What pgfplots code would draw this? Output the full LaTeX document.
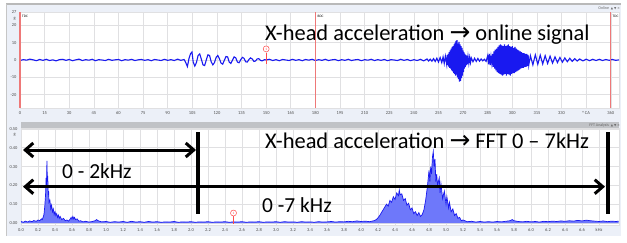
\documentclass[border=0pt]{standalone}
\usepackage{pgfplots}
\usepackage{pgfplotstable}
\pgfplotsset{compat=1.18}
\usepackage{fontspec}
\setmainfont{Carlito}
\newfontfamily\symf{DejaVu Sans}
\usetikzlibrary{arrows.meta}
\definecolor{bgc}{RGB}{236,240,248}
\definecolor{gridc}{RGB}{224,224,226}
\definecolor{sig}{RGB}{25,25,240}
\definecolor{fillc}{RGB}{110,120,250}
\definecolor{redl}{RGB}{238,120,120}
\definecolor{barc}{RGB}{192,194,198}

% top: x-head acceleration (online signal), x in deg CA, y in g
\pgfplotstableread{
x y
0 -0.3
2 0.2
4 -0.1
6 0.5
8 0.1
10 -0.4
12 0.3
14 -0.2
16 0.4
18 -0.3
20 0.1
22 -0.5
24 0.2
26 0.4
28 -0.2
30 0.3
32 -0.4
34 0.1
36 0.5
38 -0.3
40 0.2
42 -0.1
44 0.4
46 -0.4
48 0.2
50 0.0
52 -0.3
54 0.4
56 -0.2
58 0.1
60 0.3
62 -0.4
64 0.2
66 -0.1
68 0.4
70 -0.3
72 0.1
74 0.3
76 -0.2
78 0.2
80 -0.4
82 0.3
84 0.0
86 -0.3
88 0.4
90 -0.2
92 0.2
94 -0.3
96 0.5
98 -0.2
100 0.3
101 -1.5
102 -3.8
103 1.0
104 3.8
104.8 4.6
105.5 -1.0
106.5 -3.5
107.5 -1.5
108.5 2.5
109.5 3.5
110.5 0.5
111.5 -2.8
112.5 -3.2
113.5 0.0
114.5 3.0
115.5 2.6
116.5 -1.0
117.5 -2.8
118.5 -1.5
119.5 1.5
120.5 2.6
121.5 0.8
122.5 -1.8
123.5 -2.4
124.5 -0.2
125.5 2.0
126.5 1.8
127.5 -1.2
128.5 -2.0
129.5 0.0
130.5 1.8
131.5 1.2
132.5 -1.2
133.5 -1.6
134.5 0.2
135.5 1.5
136.5 1.0
137.5 -1.0
138.5 -1.2
139.5 0.3
140.5 1.2
141.5 0.6
142.5 -0.8
143.5 -0.6
144.5 0.6
145.5 0.8
146.5 -0.2
147.5 -0.5
149 0.2
150 0.0
152 0.4
154 -0.3
156 0.2
158 -0.4
160 0.3
162 0.0
164 -0.3
166 0.4
168 -0.2
170 0.2
172 -0.4
174 0.3
176 -0.1
178 0.4
180 -0.3
182 0.2
184 -0.2
186 0.4
188 -0.3
190 0.1
192 0.3
194 -0.4
196 0.2
198 -0.2
200 0.4
202 -0.3
204 0.1
206 0.3
208 -0.4
210 0.2
212 -0.1
214 0.4
216 -0.3
218 0.2
220 -0.2
222 0.3
224 -0.4
226 0.2
228 0.0
230 -0.3
232 0.4
234 -0.2
236 0.3
238 -0.4
240 0.2
242 -0.3
244 0.4
246 -0.5
248 0.6
249 -0.6
250 0.5
251 -0.7
252 0.8
253 -0.9
254 1.0
255 -1.2
256 1.4
257 -1.5
257.8 1.8
258.5 -2.0
259.2 2.2
260 -2.5
260.3 2.8
260.6 -3.0
260.9 3.5
261.2 -3.8
261.5 4.5
261.8 -4.5
262.1 5.5
262.4 -5.0
262.7 6.5
263.0 -6.0
263.3 7.5
263.6 -6.5
263.9 8.0
264.2 -7.5
264.5 9.0
264.8 -8.0
265.1 10.0
265.4 -9.0
265.7 11.0
266.0 -8.5
266.3 11.5
266.6 -10.0
266.9 9.5
267.2 -11.0
267.5 10.5
267.8 -12.5
268.1 9.0
268.4 -12.0
268.7 8.0
269.0 -10.5
269.3 7.0
269.6 -9.0
269.9 5.5
270.2 -7.0
270.5 4.5
270.8 -5.0
271.1 3.5
271.4 -4.0
271.7 3.0
272.0 -3.0
272.3 2.5
272.6 -2.5
273.0 2.0
273.5 -2.0
274 1.6
274.5 -1.5
275 1.2
276 -1.0
277 1.0
278 -0.8
279 0.9
280 -0.7
281 0.6
282 -0.5
283 0.4
284 -0.8
285 2.5
285.5 -2.5
286 3.5
286.5 -3.0
287 2.0
287.5 -2.0
288 3.5
288.4 -4.0
288.8 5.0
289.2 -5.0
289.6 6.0
290 -6.0
290.4 6.5
290.8 -7.0
291.2 7.5
291.6 -7.5
292 8.5
292.4 -8.0
292.8 9.0
293.2 -8.5
293.6 8.5
294 -9.0
294.4 8.0
294.8 -8.5
295.2 9.0
295.6 -8.0
296 8.0
296.4 -9.0
296.8 8.5
297.2 -8.0
297.6 9.0
298 -8.5
298.4 8.0
298.8 -9.0
299.2 7.5
299.6 -8.0
300 8.0
300.4 -7.5
300.8 7.0
301.2 -7.5
301.6 7.5
302 -7.0
302.4 6.5
302.8 -6.5
303.2 6.0
303.6 -6.0
304 5.5
304.4 -5.5
304.8 5.0
305.2 -5.0
305.6 4.5
306 -4.5
306.4 4.0
306.8 -4.5
307.2 4.0
307.6 -4.0
308 3.5
308.4 -4.0
308.8 3.5
309.2 -3.5
309.6 3.0
310 -3.0
311 2.5
312.5 -2.8
314 3.0
315.5 -2.5
317 2.8
318.5 -2.3
320 2.5
321.5 -2.0
323 2.2
324.5 -1.8
326 1.8
327.5 -1.5
329 1.5
330.5 -1.3
332 1.2
333.5 -1.0
335 1.0
336.5 -0.8
338 0.8
339.5 -0.6
341 0.6
343 -0.5
345 0.5
347 -0.4
349 0.4
351 -0.3
353 0.4
355 -0.3
357 0.3
359 -0.2
361 0.3
363 -0.2
365 0.1
}\toptable

% bottom: FFT of x-head acceleration, x in kHz, y in g
\pgfplotstableread{
x y
0.00 0.008
0.03 0.004
0.05 0.010
0.08 0.005
0.10 0.011
0.13 0.007
0.15 0.013
0.18 0.009
0.20 0.016
0.22 0.012
0.24 0.022
0.25 0.018
0.26 0.030
0.27 0.045
0.28 0.090
0.29 0.160
0.295 0.240
0.30 0.200
0.305 0.330
0.31 0.220
0.315 0.250
0.32 0.150
0.325 0.170
0.33 0.110
0.34 0.120
0.35 0.075
0.36 0.095
0.37 0.060
0.38 0.075
0.39 0.045
0.40 0.060
0.41 0.040
0.42 0.050
0.43 0.030
0.44 0.042
0.45 0.025
0.46 0.035
0.48 0.018
0.50 0.025
0.52 0.012
0.54 0.016
0.56 0.010
0.58 0.022
0.59 0.030
0.60 0.020
0.61 0.035
0.62 0.022
0.63 0.030
0.64 0.018
0.66 0.022
0.68 0.010
0.70 0.012
0.73 0.006
0.76 0.009
0.80 0.005
0.84 0.008
0.87 0.012
0.89 0.018
0.90 0.014
0.92 0.010
0.95 0.006
1.00 0.008
1.05 0.004
1.10 0.007
1.15 0.005
1.20 0.008
1.25 0.004
1.30 0.009
1.35 0.005
1.40 0.007
1.45 0.004
1.50 0.008
1.55 0.005
1.60 0.007
1.65 0.004
1.70 0.006
1.75 0.005
1.80 0.008
1.85 0.004
1.90 0.006
1.95 0.005
2.00 0.007
2.05 0.004
2.10 0.006
2.15 0.005
2.20 0.007
2.25 0.004
2.30 0.006
2.35 0.005
2.40 0.007
2.45 0.004
2.50 0.006
2.55 0.005
2.60 0.007
2.65 0.004
2.70 0.006
2.75 0.005
2.80 0.007
2.85 0.004
2.90 0.006
2.95 0.005
3.00 0.007
3.05 0.004
3.10 0.007
3.15 0.005
3.20 0.006
3.25 0.004
3.30 0.007
3.35 0.005
3.40 0.006
3.45 0.004
3.50 0.007
3.55 0.005
3.60 0.006
3.65 0.008
3.70 0.005
3.75 0.007
3.80 0.006
3.85 0.009
3.90 0.007
3.95 0.011
4.00 0.008
4.05 0.010
4.10 0.007
4.15 0.012
4.18 0.018
4.20 0.028
4.22 0.040
4.24 0.055
4.26 0.070
4.28 0.085
4.30 0.100
4.32 0.090
4.34 0.120
4.36 0.110
4.38 0.140
4.40 0.125
4.42 0.160
4.44 0.145
4.45 0.175
4.46 0.150
4.48 0.155
4.50 0.120
4.52 0.130
4.54 0.095
4.56 0.105
4.58 0.070
4.60 0.080
4.62 0.050
4.64 0.060
4.66 0.040
4.68 0.055
4.70 0.035
4.72 0.045
4.74 0.070
4.76 0.120
4.78 0.190
4.80 0.280
4.81 0.220
4.82 0.300
4.83 0.260
4.84 0.350
4.85 0.380
4.86 0.300
4.87 0.340
4.88 0.220
4.89 0.260
4.90 0.200
4.92 0.240
4.93 0.160
4.94 0.210
4.96 0.130
4.98 0.170
5.00 0.100
5.01 0.140
5.03 0.080
5.04 0.110
5.06 0.060
5.08 0.075
5.10 0.040
5.12 0.050
5.14 0.025
5.16 0.030
5.18 0.012
5.20 0.016
5.25 0.007
5.30 0.009
5.35 0.005
5.40 0.008
5.45 0.005
5.50 0.007
5.55 0.005
5.60 0.008
5.65 0.006
5.70 0.009
5.75 0.012
5.78 0.018
5.80 0.012
5.85 0.008
5.90 0.006
5.95 0.009
6.00 0.006
6.05 0.008
6.10 0.005
6.15 0.009
6.20 0.007
6.25 0.010
6.30 0.008
6.35 0.011
6.40 0.009
6.45 0.012
6.50 0.010
6.55 0.014
6.60 0.011
6.65 0.015
6.70 0.012
6.75 0.010
6.80 0.008
6.85 0.011
6.90 0.007
6.95 0.010
7.00 0.008
7.03 0.010
}\ffttable

\pgfplotsset{
  panel/.style={
    scale only axis, anchor=south west,
    axis background/.style={fill=white},
    axis line style={draw=gridc},
    grid=major, major grid style={gridc, line width=0.6bp},
    major tick length=0pt,
    tick label style={font=\fontsize{4.5}{5}\selectfont, text=black!70},
    /pgf/number format/assume math mode=true,
    clip=false,
  },
}

\begin{document}
\begin{tikzpicture}[x=1bp,y=1bp]
\path[use as bounding box] (0,0) rectangle (627,242);
\fill[white] (0,0) rectangle (627,242);
\fill[bgc] (6,6) rectangle (621,238);
\draw[gray!55, line width=1.5bp] (6,238) -- (621,238);
\draw[gray!45, line width=0.6bp] (6,6) -- (6,238);
\fill[barc] (21,114) rectangle (619,120);

% ---------- top panel ----------
\begin{axis}[panel,
  at={(20bp,134bp)}, width=599bp, height=96bp,
  xmin=0, xmax=365, ymin=-27.7, ymax=27.7,
  xtick={0,15,...,360},
  xticklabels={0,15,30,45,60,75,90,105,120,135,150,165,180,195,210,225,240,255,270,285,300,315,330,° CA,360},
  ytick={-20,-10,0,10,20},
]
\addplot[sig, line width=1.1bp] table {\toptable};
\addplot[redl, line width=1.2bp, forget plot] coordinates {(0,-27.7) (0,27.7)};
\addplot[redl, line width=1.2bp, forget plot] coordinates {(180,-27.7) (180,27.7)};
\addplot[redl, line width=1.2bp, forget plot] coordinates {(360,-27.7) (360,27.7)};
\draw[red!70, line width=0.5bp] (axis cs:150,4.3) -- (axis cs:150,-2.5);
\draw[red!70, line width=0.5bp, fill=white] (axis cs:150,6.4) circle (3bp);
\node[font=\fontsize{3.5}{4}\selectfont, text=red!70, inner sep=0] at (axis cs:150,6.4) {1};
\end{axis}

% ---------- bottom panel ----------
\begin{axis}[panel,
  at={(21bp,17bp)}, width=598bp, height=97bp,
  xmin=0, xmax=7.035, ymin=-0.0106, ymax=0.505,
  xtick={0,0.2,0.4,0.6,0.8,1.0,1.2,1.4,1.6,1.8,2.0,2.2,2.4,2.6,2.8,3.0,3.2,3.4,3.6,3.8,4.0,4.2,4.4,4.6,4.8,5.0,5.2,5.4,5.6,5.8,6.0,6.2,6.4,6.6,6.8},
  xticklabels={0.0,0.2,0.4,0.6,0.8,1.0,1.2,1.4,1.6,1.8,2.0,2.2,2.4,2.6,2.8,3.0,3.2,3.4,3.6,3.8,4.0,4.2,4.4,4.6,4.8,5.0,5.2,5.4,5.6,5.8,6.0,6.2,6.4,6.6,kHz},
  ytick={0,0.1,0.2,0.3,0.4,0.5},
  yticklabels={0.00,0.10,0.20,0.30,0.40,0.50},
]
\addplot[fill=fillc, draw=none] table {\ffttable} \closedcycle;
\addplot[sig, line width=0.7bp] table {\ffttable};
\draw[red!70, line width=0.5bp] (axis cs:2.5,0.040) -- (axis cs:2.5,-0.004);
\draw[red!70, line width=0.5bp, fill=white] (axis cs:2.5,0.053) circle (3bp);
\node[font=\fontsize{3.5}{4}\selectfont, text=red!70, inner sep=0] at (axis cs:2.5,0.053) {1};
\end{axis}

% ---------- small panel texts ----------
\node[font=\fontsize{3.5}{4}\selectfont, anchor=west, inner sep=0] at (22,226) {TDC};
\node[font=\fontsize{3.5}{4}\selectfont, anchor=west, inner sep=0] at (317.5,226) {BDC};
\node[font=\fontsize{3.5}{4}\selectfont, anchor=west, inner sep=0] at (612.5,226) {TDC};
\node[font=\fontsize{4.5}{5}\selectfont, text=black!70, anchor=east, inner sep=0] at (16.5,230) {27};
\node[font=\fontsize{4.5}{5}\selectfont, text=black!70, anchor=east, inner sep=0] at (16,223.5) {g};
\node[font=\fontsize{4.5}{5}\selectfont, text=black!70, anchor=east, inner sep=0] at (16,107.5) {g};
\node[font=\fontsize{4}{5}\selectfont, text=black!60, anchor=east, inner sep=0] at (620,234) {Online \ {\symf\fontsize{3}{4}\selectfont ▲ ▼ ✕}};
\node[font=\fontsize{4}{5}\selectfont, text=black!60, anchor=east, inner sep=0] at (620,117) {FFT Analysis \ {\symf\fontsize{3}{4}\selectfont ▲ ▼ ✕}};

% ---------- annotations ----------
\node[font=\fontsize{22.5}{26}\selectfont, anchor=base west, inner sep=0] at (265,202) {X-head acceleration {\symf\fontsize{25}{26}\selectfont →} online signal};
\node[font=\fontsize{22.5}{26}\selectfont, anchor=base west, inner sep=0] at (265,94) {X-head acceleration {\symf\fontsize{25}{26}\selectfont →} FFT 0 – 7kHz};
\node[font=\fontsize{21.5}{24}\selectfont, anchor=base west, inner sep=0] at (62,64) {0 - 2kHz};
\node[font=\fontsize{21.5}{24}\selectfont, anchor=base west, inner sep=0] at (262,30) {0 -7 kHz};

\draw[line width=3bp, {Straight Barb[length=8bp,width=14bp]}-{Straight Barb[length=8bp,width=14bp]}] (23,92) -- (196,92);
\draw[line width=3bp, {Straight Barb[length=8bp,width=14bp]}-{Straight Barb[length=8bp,width=14bp]}] (23,55.3) -- (605,55.3);
\draw[line width=4bp] (198,110) -- (198,28);
\draw[line width=4bp] (608,110) -- (608,28);
\end{tikzpicture}
\end{document}
